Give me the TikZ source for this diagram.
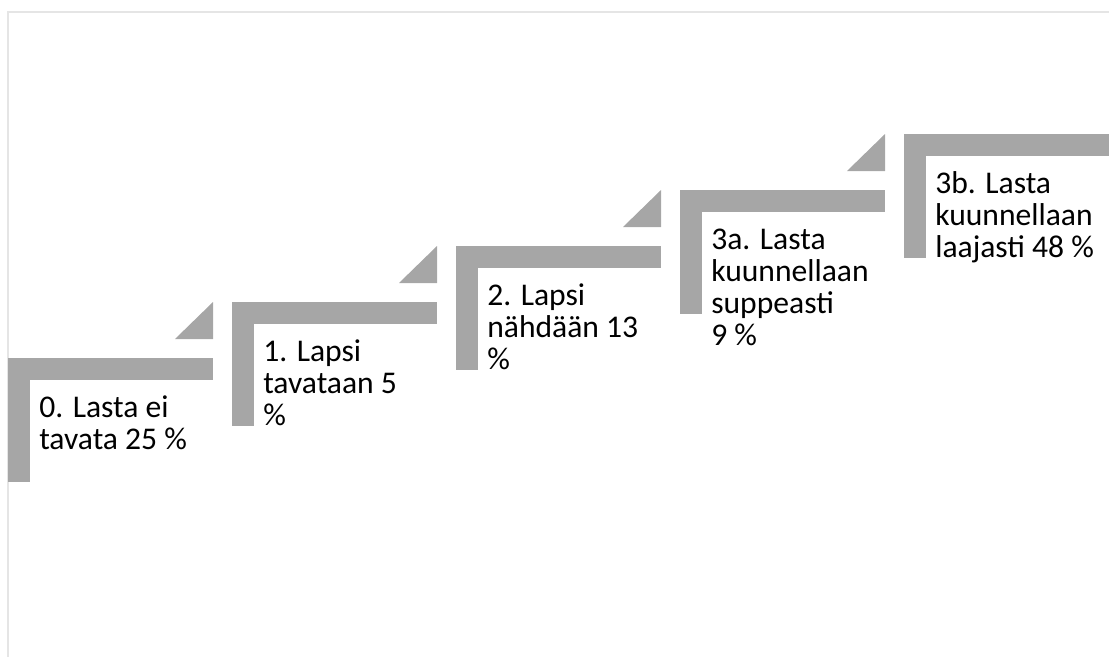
\documentclass[tikz,border=0pt]{standalone}
\usepackage{fontspec}
\setmainfont{Carlito}
\usetikzlibrary{positioning}

\begin{document}
\begin{tikzpicture}[x=0.75pt,y=-0.75pt]
	\tikzstyle{frame}=[draw=black!10,line width=1.5pt]
	\tikzstyle{bar}=[fill=black!35,draw=none]
	\tikzstyle{steplabel}=[anchor=base west,align=left,inner sep=0pt,font=\fontsize{23.7}{24.2}\selectfont]
	
	\useasboundingbox (0,0) rectangle (1109,657);
	\draw[frame] (1109,12) -| (8,657);
	
	% steps
	\foreach \i in {0,...,4} {
		\fill[bar] ({8+224*\i},{358-56*\i}) rectangle +(205,22);
		\fill[bar] ({8+224*\i},{358-56*\i}) rectangle +(22,124);
	}
	\foreach \i in {0,...,3}
	\fill[bar] ({213+224*\i},{302-56*\i}) -- +(0,37) -- +(-38,37) -- cycle;
	
	% labels, placed at the baseline of their last line
	\foreach \i/\n/\txt in {0/2/{0. Lasta ei\\tavata 25 \%},1/3/{1. Lapsi\\tavataan 5\\\%},2/3/{2. Lapsi\\nähdään 13\\\%},3/4/{3a. Lasta\\kuunnellaan\\suppeasti\\9 \%},4/3/{3b. Lasta\\kuunnellaan\\laajasti 48 \%}}
	\node[steplabel] (s\i) at ({39+224*\i},{417-56*\i+32.3*(\n-1)}) {\txt};
	
\end{tikzpicture}
\end{document}
